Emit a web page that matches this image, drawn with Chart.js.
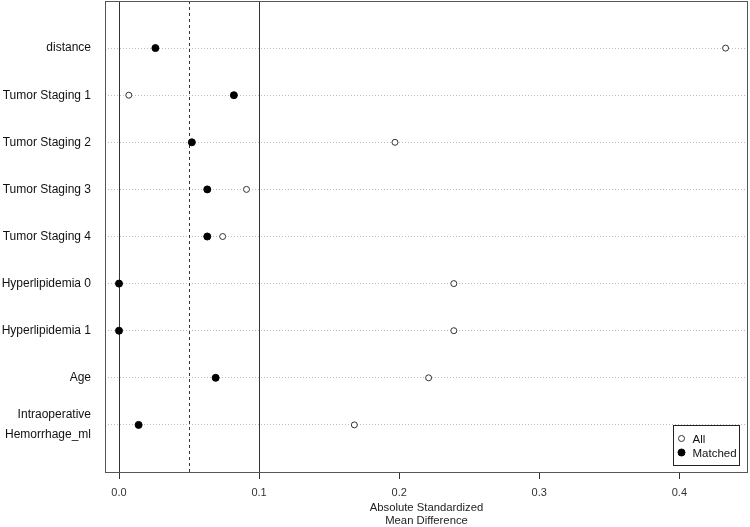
<!DOCTYPE html>
<html>
<head>
<meta charset="utf-8">
<script src="https://cdn.jsdelivr.net/npm/chart.js@4.4.1/dist/chart.umd.min.js"></script>
<style>
  html, body { margin: 0; padding: 0; background: #fff; }
  canvas { display: block; }
</style>
</head>
<body>
<canvas id="canvas" width="750" height="527"></canvas>
<script>
const categories = [
  "distance",
  "Tumor Staging 1",
  "Tumor Staging 2",
  "Tumor Staging 3",
  "Tumor Staging 4",
  "Hyperlipidemia 0",
  "Hyperlipidemia 1",
  "Age",
  "Intraoperative\nHemorrhage_ml"
]
const allValues = [0.433, 0.007, 0.197, 0.091, 0.074, 0.239, 0.239, 0.221, 0.168]
const matchedValues = [0.026, 0.082, 0.052, 0.063, 0.063, 0.000, 0.000, 0.069, 0.014]
const xTicks = [0, 0.1, 0.2, 0.3, 0.4]
const solidLines = [0, 0.1]
const dashedLines = [0.05]
const xTitle = ["Absolute Standardized", "Mean Difference"]

const FONT = "'Liberation Sans', Arial, Helvetica, sans-serif"

const toPoints = values => values.map((v, i) => ({ x: v, y: i + 1 }))

const frameAndLines = {
  id: "frameAndLines",
  beforeDatasetsDraw(chart) {
    const { ctx, chartArea: a, scales: { x } } = chart
    ctx.save()
    ctx.strokeStyle = "#333"
    ctx.lineWidth = 1
    ctx.setLineDash([3, 3])
    for (const v of dashedLines) {
      const px = Math.round(x.getPixelForValue(v)) + 0.5
      ctx.beginPath()
      ctx.moveTo(px, a.top)
      ctx.lineTo(px, a.bottom)
      ctx.stroke()
    }
    ctx.restore()
  },
  afterDraw(chart) {
    const { ctx, chartArea: a } = chart
    ctx.save()
    ctx.strokeStyle = "#555"
    ctx.lineWidth = 1
    ctx.strokeRect(Math.round(a.left) + 0.5, Math.round(a.top) + 0.5,
      Math.round(a.right - a.left) - 1, Math.round(a.bottom - a.top))

    // legend box
    const w = 66, h = 40
    const bx = Math.round(a.right) - 9 - w + 0.5
    const by = Math.round(a.bottom) - 7 - h + 0.5
    ctx.fillStyle = "#fff"
    ctx.fillRect(bx, by, w, h)
    ctx.strokeStyle = "#222"
    ctx.strokeRect(bx, by, w, h)
    ctx.font = "11.5px " + FONT
    ctx.textBaseline = "middle"
    chart.data.datasets.forEach((ds, i) => {
      const cy = by + 13 + i * 14
      ctx.beginPath()
      ctx.arc(bx + 8, cy, ds.pointRadius, 0, Math.PI * 2)
      ctx.fillStyle = ds.pointBackgroundColor
      ctx.fill()
      ctx.strokeStyle = ds.pointBorderColor
      ctx.lineWidth = 1
      ctx.stroke()
      ctx.fillStyle = "#111"
      ctx.fillText(ds.label, bx + 19, cy + 1)
    })
    ctx.restore()
  }
}

new Chart(document.getElementById("canvas"), {
  type: "scatter",
  data: {
    datasets: [
      {
        label: "All",
        data: toPoints(allValues),
        pointRadius: 3,
        pointBackgroundColor: "#fff",
        pointBorderColor: "#333",
        pointBorderWidth: 1
      },
      {
        label: "Matched",
        data: toPoints(matchedValues),
        pointRadius: 3.5,
        pointBackgroundColor: "#000",
        pointBorderColor: "#000",
        pointBorderWidth: 1
      }
    ]
  },
  options: {
    responsive: false,
    animation: false,
    layout: { autoPadding: false, padding: { top: 1, right: 2, left: 0, bottom: 0 } },
    plugins: {
      legend: { display: false },
      tooltip: { enabled: false }
    },
    scales: {
      x: {
        type: "linear",
        min: -0.01,
        max: 0.449,
        afterBuildTicks: scale => { scale.ticks = xTicks.map(v => ({ value: v })) },
        afterFit: scale => {
          scale.height = 55
          scale.paddingLeft = 0
          scale.paddingRight = 0
        },
        border: { display: false },
        grid: {
          color: c => solidLines.some(v => Math.abs(v - c.tick.value) < 1e-9) ? "#333" : "rgba(0,0,0,0)",
          tickColor: "#333",
          tickLength: 7,
          lineWidth: 1
        },
        ticks: {
          color: "#333",
          padding: 7,
          maxRotation: 0,
          font: { family: FONT, size: 11 },
          callback: v => v.toFixed(1)
        },
        title: {
          display: true,
          text: xTitle,
          color: "#222",
          font: { family: FONT, size: 11.3, lineHeight: 1.15 },
          padding: { top: 0, bottom: 0 }
        }
      },
      y: {
        type: "linear",
        reverse: true,
        min: 0,
        max: 10,
        afterBuildTicks: scale => { scale.ticks = categories.map((c, i) => ({ value: i + 1 })) },
        afterFit: scale => {
          scale.width = 105
          scale.paddingTop = 0
          scale.paddingBottom = 0
        },
        border: { display: false, dash: [1, 2] },
        grid: {
          color: "#bdbdbd",
          lineWidth: 1,
          drawTicks: false
        },
        ticks: {
          color: "#111",
          padding: 14,
          font: { family: FONT, size: 12, lineHeight: 1.65 },
          callback: v => {
            const c = categories[Math.round(v) - 1]
            return c ? c.split("\n") : ""
          }
        }
      }
    }
  },
  plugins: [frameAndLines]
})
</script>
</body>
</html>
